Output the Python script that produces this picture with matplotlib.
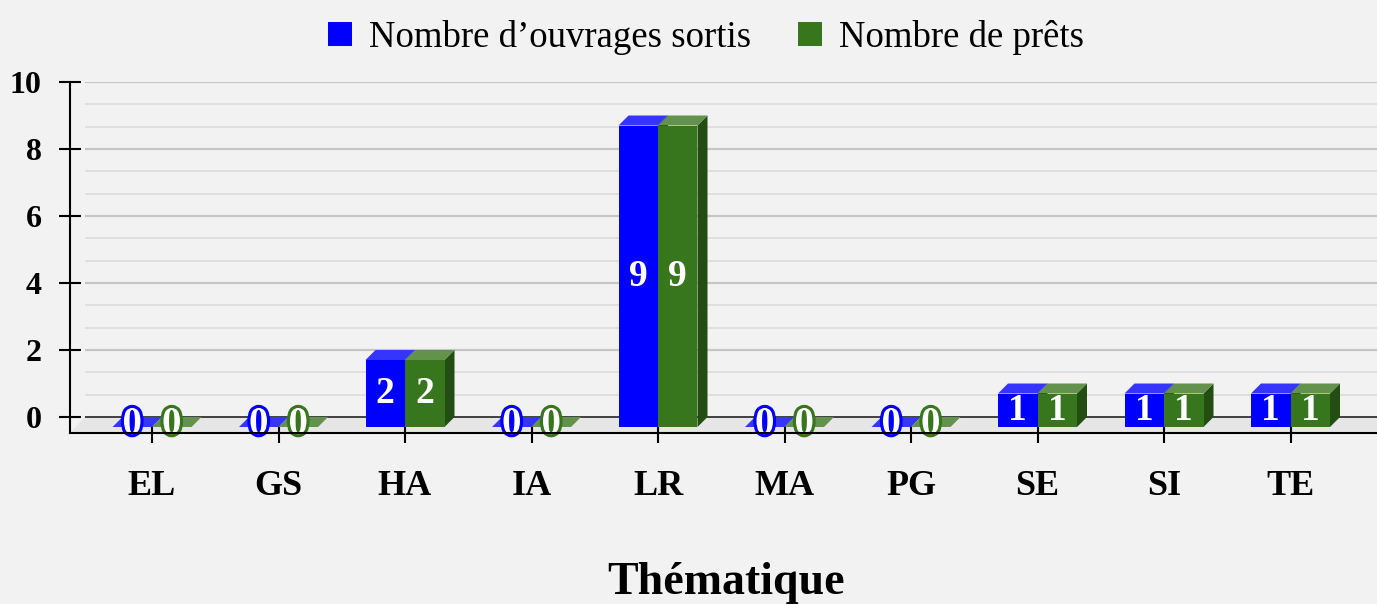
import numpy as np
import matplotlib
matplotlib.use("Agg")
import matplotlib.pyplot as plt
from matplotlib.patches import Patch, Polygon
import matplotlib.patheffects as pe

categories = ["EL", "GS", "HA", "IA", "LR", "MA", "PG", "SE", "SI", "TE"]
ouvrages = [0, 0, 2, 0, 9, 0, 0, 1, 1, 1]
prets = [0, 0, 2, 0, 9, 0, 0, 1, 1, 1]
series_names = ["Nombre d\u2019ouvrages sortis", "Nombre de prêts"]

plt.rcParams['font.family'] = ['Liberation Serif', 'DejaVu Serif']

W, H = 1377, 604
bg = '#f2f2f2'
fig = plt.figure(figsize=(W / 100, H / 100), dpi=100, facecolor=bg)

# axes box in pixels
left, right, top, bottom = 70, 1377, 82, 433
ax = fig.add_axes([left / W, (H - bottom) / H, (right - left) / W, (bottom - top) / H])
ax.set_facecolor(bg)

px_x = 126.5   # pixels per category
px_y = 33.5    # pixels per unit
x0_px = 152    # first category centre
ax.set_xlim(-(x0_px - left) / px_x, (right - x0_px) / px_x)
ax.set_ylim(-(bottom - 417) / px_y, 10)
xl, xr = ax.get_xlim()
yb = ax.get_ylim()[0]

dx = 10 / px_x
dy = 10 / px_y
wall = 15 / px_x
bw = 39.5 / px_x

# grid on the back wall
minor = [v for v in np.arange(0, 10.01, 2 / 3) if abs(v - round(v / 2) * 2) > 0.05]
ax.hlines(minor, xl + wall, xr, colors='#dedede', lw=1.3, zorder=1)
ax.hlines([2, 4, 6, 8, 10], xl + wall, xr, colors='#c6c6c6', lw=1.6, zorder=1)

# floor
ax.add_patch(Polygon([(xl, yb), (xr, yb), (xr, 0), (xl + wall, 0)],
                     closed=True, fc='#e6e6e6', ec='none', zorder=1.5))
ax.hlines([0], xl + wall, xr, colors='#333333', lw=1.3, zorder=1.6)

styles = [
    dict(front='#0000ff', top='#3535ff', side='#0000c0'),
    dict(front='#38761d', top='#62924c', side='#234d12'),
]

for i, cat in enumerate(categories):
    for s, vals in enumerate([ouvrages, prets]):
        v = vals[i]
        st = styles[s]
        x0 = i - bw + s * bw
        x1 = x0 + bw
        ax.add_patch(Polygon([(x1, -dy), (x1 + dx, 0), (x1 + dx, v), (x1, v - dy)],
                             closed=True, fc=st['side'], ec='none', zorder=2 + s))
        ax.add_patch(Polygon([(x0, v - dy), (x1, v - dy), (x1 + dx, v), (x0 + dx, v)],
                             closed=True, fc=st['top'], ec='none', zorder=2 + s))
        ax.add_patch(Polygon([(x0, -dy), (x1, -dy), (x1, v - dy), (x0, v - dy)],
                             closed=True, fc=st['front'], ec='none', zorder=2 + s))
        if v == 0:
            ax.text((x0 + x1) / 2, -dy + 0.08, str(v), ha='center', va='center',
                    fontsize=28, fontweight='bold', color='white', zorder=6,
                    path_effects=[pe.Stroke(linewidth=4.5, foreground=st['front']), pe.Normal()])
        else:
            ax.text((x0 + x1) / 2, v / 2 - dy, str(v), ha='center', va='center',
                    fontsize=27, fontweight='bold', color='white', zorder=6)

# axes lines and ticks
for sp in ['top', 'right']:
    ax.spines[sp].set_visible(False)
ax.spines['left'].set_linewidth(1.5)
ax.spines['bottom'].set_linewidth(1.5)
ax.spines['left'].set_zorder(7)
ax.spines['bottom'].set_zorder(7)

ax.set_xticks(range(len(categories)))
ax.set_xticklabels(categories, fontsize=26, fontweight='bold')
ax.set_yticks([0, 2, 4, 6, 8, 10])
ax.set_yticklabels(['0', '2', '4', '6', '8', '10'], fontsize=23, fontweight='bold')
ax.tick_params(axis='x', direction='inout', length=15, width=1.5, pad=19)
ax.tick_params(axis='y', direction='inout', length=16.5, width=1.5, pad=12)

fig.text(726 / W, 10 / H, 'Thématique', ha='center', va='baseline',
         fontsize=33, fontweight='bold')

handles = [Patch(facecolor=styles[0]['front'], edgecolor='none'),
           Patch(facecolor=styles[1]['front'], edgecolor='none')]
fig.legend(handles, series_names, loc='upper center', bbox_to_anchor=(706 / W, 1.0),
           ncol=2, frameon=False, fontsize=26.5, handlelength=0.64, handleheight=0.64,
           handletextpad=0.45, columnspacing=1.3, borderaxespad=0.15)

fig.savefig('out.png', dpi=100, facecolor=bg)
